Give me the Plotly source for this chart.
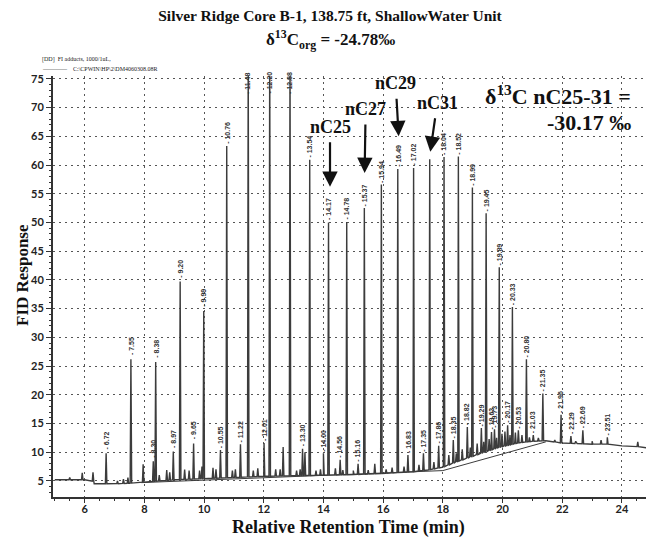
import numpy as np
import plotly.graph_objects as go

# ---------------- data ----------------
# labelled peaks: retention time label, apex response
peak_label = ["6.72", "7.55", "8.30", "8.38", "8.97", "9.20", "9.65", "9.99", "10.55", "10.76",
              "11.22", "11.48", "12.01", "12.20", "12.88", "13.30", "13.54", "14.00", "14.17", "14.56",
              "14.78", "15.16", "15.37", "15.94", "16.49", "16.83", "17.02", "17.35", "", "17.86",
              "18.04", "18.35", "18.52", "18.82", "18.99", "19.29", "19.45", "19.63", "19.73", "19.89",
              "20.17", "20.33", "20.53", "20.80", "21.03", "21.35", "21.96", "22.29", "22.69", "23.51"]
peak_rt = [6.72, 7.55, 8.30, 8.38, 8.97, 9.20, 9.65, 9.99, 10.55, 10.76,
           11.22, 11.48, 12.01, 12.20, 12.88, 13.30, 13.54, 14.00, 14.17, 14.56,
           14.78, 15.16, 15.37, 15.94, 16.49, 16.83, 17.02, 17.35, 17.56, 17.86,
           18.04, 18.35, 18.52, 18.82, 18.99, 19.29, 19.45, 19.63, 19.73, 19.89,
           20.17, 20.33, 20.53, 20.80, 21.03, 21.35, 21.96, 22.29, 22.69, 23.51]
peak_height = [9.8, 26.2, 8.4, 25.7, 10.1, 39.7, 11.5, 34.6, 10.4, 63.3,
               11.4, 80.0, 11.6, 81.0, 80.0, 10.6, 60.9, 9.8, 50.0, 8.7,
               50.1, 8.0, 52.5, 56.6, 59.3, 9.5, 59.5, 9.8, 61.0, 11.1,
               61.4, 12.1, 61.5, 14.4, 56.1, 14.2, 51.6, 13.5, 14.0, 42.2,
               14.7, 35.3, 13.8, 26.2, 13.0, 20.2, 16.5, 12.8, 13.8, 12.6]

# small unlabelled peaks
minor_rt = [5.50, 5.92, 6.28, 7.10, 7.30, 7.45, 7.96, 8.50, 8.75, 8.85, 9.35, 9.50, 9.85, 9.93,
            10.30, 10.40, 10.95, 11.05, 11.65, 11.80, 12.40, 12.55, 12.65, 13.10, 13.22, 13.38,
            13.75, 13.90, 14.40, 14.65, 15.00, 15.50, 15.72, 16.10, 16.30, 16.70, 17.20, 17.70,
            18.20, 18.45, 18.65, 18.92, 19.15, 19.37, 19.55, 19.80, 19.98, 20.08, 20.25, 20.43,
            20.65, 20.90, 21.20, 21.55, 21.75, 22.45, 23.00, 23.30, 24.53]
minor_height = [5.6, 6.4, 6.5, 5.0, 5.3, 5.6, 7.9, 6.0, 6.9, 6.5, 7.0, 6.8, 6.8, 7.5,
                7.3, 7.0, 6.8, 7.0, 6.8, 7.2, 7.0, 7.0, 10.9, 6.8, 7.0, 10.0,
                6.8, 7.0, 7.2, 6.9, 6.8, 6.9, 8.0, 7.0, 7.3, 7.5, 7.8, 8.3,
                9.5, 9.8, 10.5, 10.8, 11.5, 11.8, 12.3, 12.5, 13.2, 13.6, 13.0, 13.4,
                13.0, 12.6, 12.5, 12.0, 12.1, 11.9, 11.9, 12.1, 11.8]

# signal floor between peaks
base_rt = [5.00, 5.90, 6.00, 6.26, 6.32, 7.00, 7.50, 8.00, 9.00, 10.00, 11.00, 12.00, 13.00,
           14.00, 15.00, 16.00, 17.00, 17.50, 18.00, 18.50, 19.00, 19.50, 20.00, 20.50, 21.00,
           21.45, 22.00, 22.50, 23.00, 23.50, 24.00, 24.50, 25.00]
base_val = [5.2, 5.2, 5.2, 5.2, 4.5, 4.5, 4.6, 4.8, 5.2, 5.4, 5.6, 5.8, 5.9,
            6.0, 6.1, 6.3, 6.6, 6.9, 7.4, 8.4, 9.3, 10.2, 11.0, 11.6, 11.9,
            12.0, 11.6, 11.5, 11.4, 11.4, 11.1, 11.0, 10.6]

# drawn integration baseline
fit_rt = [7.9, 18.0, 21.45]
fit_val = [4.7, 6.8, 11.8]

x_ticks = [6, 8, 10, 12, 14, 16, 18, 20, 22, 24]
y_ticks = [5, 10, 15, 20, 25, 30, 35, 40, 45, 50, 55, 60, 65, 70, 75]

arrow_names = ["nC25", "nC27", "nC29", "nC31"]
arrow_rt = [14.22, 15.38, 16.52, 17.58]
arrow_tip = [56.2, 58.6, 65.0, 62.3]

# ---------------- build trace ----------------
pts = list(zip(base_rt, base_val))
for t, h in zip(peak_rt + minor_rt, peak_height + minor_height):
    b = float(np.interp(t, base_rt, base_val))
    w = 0.025
    pts += [(t - w, b), (t, h), (t + w, b)]
pts.sort(key=lambda p: p[0])
tx = [p[0] for p in pts]
ty = [p[1] for p in pts]

fig = go.Figure()
fig.add_trace(go.Scatter(x=tx, y=ty, mode="lines",
                         line=dict(color="#3c3c3c", width=1.4), hoverinfo="skip"))
fig.add_trace(go.Scatter(x=fit_rt, y=fit_val, mode="lines",
                         line=dict(color="#3c3c3c", width=1), hoverinfo="skip"))

SERIF = "Liberation Serif, Times New Roman, serif"
TICKF = dict(family="Lato, sans-serif", size=11, color="#222", weight="bold")

# the page body has an 8px margin; the figure is sized to fill the rest of the window
OFF = 8
FW, FH = 654 - OFF, 538 - OFF
PL, PR, PT, PB = 53, 653, 76, 497   # plot area in window pixels


def px(xw):
    return (xw - PL) / (PR - PL)


def py(yw):
    return (PB - yw) / (PB - PT)


# peak labels
for lab, t, h in zip(peak_label, peak_rt, peak_height):
    if not lab:
        continue
    if h > 75:
        y, ys = 74.3, 0
    else:
        y, ys = h, 13
    fig.add_annotation(x=t, y=y, text="- " + lab, showarrow=False, textangle=-90,
                       yshift=ys,
                       font=dict(family="Liberation Sans Narrow, Arial Narrow, sans-serif",
                                 size=7, color="#333", weight="bold"))

# arrows
arrow_off = [(0, -60), (1, -64), (-3, -53), (7, -49)]
for name, t, tip, (ax, ay) in zip(arrow_names, arrow_rt, arrow_tip, arrow_off):
    fig.add_annotation(x=t, y=tip, text=name, showarrow=True, ax=ax, ay=ay,
                       arrowhead=2, arrowsize=1.4, arrowwidth=2.2, arrowcolor="#111",
                       startstandoff=4,
                       font=dict(family=SERIF, size=18, color="#111", weight="bold"))

# isotope text
fig.add_annotation(xref="paper", yref="paper", x=px(633), y=py(95),
                   xanchor="right", yanchor="middle", showarrow=False,
                   text="δ<sup>13</sup>C nC25-31 =",
                   font=dict(family=SERIF, size=22, color="#111", weight="bold"))
fig.add_annotation(xref="paper", yref="paper", x=px(633), y=py(122),
                   xanchor="right", yanchor="middle", showarrow=False,
                   text="-30.17 ‰",
                   font=dict(family=SERIF, size=22, color="#111", weight="bold"))

# subtitle
fig.add_annotation(xref="paper", yref="paper", x=px(330), y=py(40),
                   xanchor="center", yanchor="middle", showarrow=False,
                   text="δ<sup>13</sup>C<sub>org</sub> = -24.78‰",
                   font=dict(family=SERIF, size=17, color="#111", weight="bold"))

# axis titles
fig.add_annotation(xref="paper", yref="paper", x=px(22), y=py(275),
                   xanchor="center", yanchor="middle", showarrow=False, textangle=-90,
                   text="FID Response",
                   font=dict(family=SERIF, size=17, color="#111", weight="bold"))
fig.add_annotation(xref="paper", yref="paper", x=px(348), y=py(527),
                   xanchor="center", yanchor="middle", showarrow=False,
                   text="Relative Retention Time (min)",
                   font=dict(family=SERIF, size=18, color="#111", weight="bold"))

# tiny file header
fig.add_annotation(xref="paper", yref="paper", x=px(40), y=py(59),
                   xanchor="left", yanchor="middle", showarrow=False,
                   text="[DD]  FI adducts, 1000/1uL,",
                   font=dict(family=SERIF, size=6, color="#222"))
fig.add_annotation(xref="paper", yref="paper", x=px(40), y=py(69),
                   xanchor="left", yanchor="middle", showarrow=False,
                   text="————    C:\\CPWIN\\HP\\2\\DM4060308.08R",
                   font=dict(family=SERIF, size=6, color="#222"))

fig.update_layout(
    width=FW, height=FH,
    margin=dict(l=PL - OFF, r=FW - (PR - OFF), t=PT - OFF, b=FH - (PB - OFF), autoexpand=False),
    paper_bgcolor="white", plot_bgcolor="white",
    showlegend=False,
    title=dict(text="Silver Ridge Core B-1, 138.75 ft, ShallowWater Unit",
               x=(330 - OFF) / FW, xanchor="center", y=1 - (16 - OFF) / FH, yanchor="middle",
               font=dict(family=SERIF, size=15.5, color="#111", weight="bold")),
)
fig.update_xaxes(range=[4.94, 25.04], tickvals=x_ticks, ticktext=[str(v) for v in x_ticks],
                 showgrid=True, gridcolor="#555", gridwidth=1.3, griddash="1.5px,4.5px",
                 showline=True, linecolor="#333", linewidth=1.5, zeroline=False,
                 ticks="outside", ticklen=4, tickcolor="#333", ticklabelstandoff=-3,
                 minor=dict(dtick=0.5, ticks="outside", ticklen=2, tickcolor="#333", showgrid=False),
                 tickfont=TICKF)
fig.update_yaxes(range=[2.2, 75.5], tickvals=y_ticks, ticktext=[str(v) for v in y_ticks],
                 showgrid=True, gridcolor="#555", gridwidth=1.3, griddash="1.5px,4.5px",
                 showline=True, linecolor="#333", linewidth=2, zeroline=False,
                 ticks="outside", ticklen=5, tickcolor="#333",
                 minor=dict(dtick=1, ticks="outside", ticklen=2, tickcolor="#333", showgrid=False),
                 tickfont=TICKF)

fig.write_html("out.html")
